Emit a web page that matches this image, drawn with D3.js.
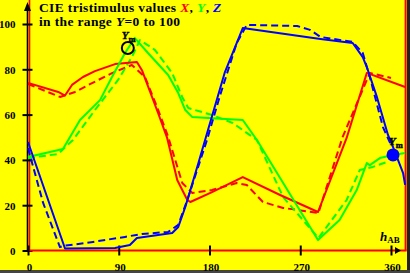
<!DOCTYPE html>
<html>
<head>
<meta charset="utf-8">
<script src="https://cdn.jsdelivr.net/npm/d3@7"></script>
<style>
  html, body { margin: 0; padding: 0; background: #ffff00; }
  svg { display: block; font-family: "Liberation Serif", "Times New Roman", serif; font-weight: bold; }
</style>
</head>
<body>
<div id="chart"></div>
<script>
//Data: [hue h_AB, value]
const X_SOLID = [[0,74.0],[30,70.0],[36.7,68.4],[43.6,73.1],[54.5,76.6],[66.4,79.2],[86.3,82.3],[108,83.2],[113,79.6],[129,60.7],[138,49.7],[148,31.1],[158,22.3],[161,21.4],[182.5,25.8],[213,32.4],[250,24.5],[287.6,17.0],[316,49.7],[336,78.4],[374,72.2]];
const X_DASH = [[0,73.5],[31.7,67.8],[46.6,70.0],[63.5,73.9],[83.3,78.3],[103,81.9],[116,76.6],[128,63.4],[139,50.2],[153,29.8],[163,25.4],[182.5,26.7],[207,29.8],[217,28.9],[233,21.4],[253,18.8],[288,16.6],[312,50.1],[339,78.4],[360,76.2]];
const Y_SOLID = [[0,41.3],[34.7,44.8],[51.6,57.6],[71.4,66.4],[83.3,76.6],[96.2,87.2],[106,93.8],[119,87.2],[139,77.5],[149,69.5],[156,62.0],[163,58.9],[178.5,58.5],[213,57.6],[227,48.8],[287.6,4.6],[309,13.5],[326,26.7],[336,38.6],[339,37.7],[349,40.8],[362,42.2],[374,43.0]];
const Y_DASH = [[0,40.8],[29.8,42.6],[44.6,48.8],[66.4,62.0],[89.3,75.3],[103,85.4],[111,92.9],[126,88.5],[143,78.3],[153,67.7],[159,62.9],[182.5,59.8],[203,56.3],[227,48.8],[253,23.6],[288,5.5],[316,22.3],[329,35.5],[342,36.9],[356,39.1]];
const Z_SOLID = [[0,47.9],[36.7,0.9],[86.3,1.1],[101,2.4],[108,5.5],[143,7.7],[149,10.4],[156,19.2],[169,38.6],[178.5,53.2],[195,78.4],[213,98.2],[290,93.4],[322,91.6],[332,85.4],[336,81.0],[346,67.8],[357,51.0],[362,45.7],[372,34.2],[374,29.0]];
const Z_DASH = [[0,45.2],[15,21.0],[31.7,1.5],[34.7,2.0],[64.5,3.8],[96.2,6.0],[113,7.3],[139,8.2],[149,11.3],[158,22.3],[177.5,48.8],[190,67.8],[207,91.6],[217,99.6],[267,99.1],[279.7,97.4],[290,94.3],[322,92.1],[332,87.2],[339,76.6],[352,54.5],[360,46.6]];
const X_TICKS = [0, 90, 180, 270, 360];
const Y_TICKS = [0, 20, 40, 60, 80, 100];
const Y_M = [99, 89.4];       // open circle on Y curve
const Y_M2 = [362, 42.2];     // filled circle

const W = 410, H = 273;
const x = d3.scaleLinear().domain([0, 360]).range([28, 391]);
const y = d3.scaleLinear().domain([0, 100]).range([250.5, 24]);
const hMax = 374;

const svg = d3.select('#chart').append('svg').attr('width', W).attr('height', H);
svg.append('rect').attr('width', W).attr('height', H).attr('fill', '#ffff00');
// image frame (right / bottom shadow)
svg.append('rect').attr('x', W - 3).attr('y', 0).attr('width', 3).attr('height', H).attr('fill', '#222');
svg.append('rect').attr('x', 0).attr('y', H - 3).attr('width', W).attr('height', 3).attr('fill', '#444');

// red frame lines
svg.append('line').attr('x1', x(0) + 1.5).attr('x2', x(0) + 1.5).attr('y1', 0).attr('y2', y(0))
  .attr('stroke', '#ff0000').attr('stroke-width', 1.6);
svg.append('line').attr('x1', x(hMax) + 0.5).attr('x2', x(hMax) + 0.5).attr('y1', 0).attr('y2', y(0))
  .attr('stroke', '#ff0000').attr('stroke-width', 2);

// y axis
svg.append('line').attr('x1', x(0) - 0.5).attr('x2', x(0) - 0.5).attr('y1', y(0)).attr('y2', 6)
  .attr('stroke', '#000').attr('stroke-width', 1.6);
svg.append('path').attr('d', `M${x(0) - 4},${11} L${x(0) - 0.5},${2} L${x(0) + 3},${11} Z`).attr('fill', '#000');

const yAxis = svg.append('g').attr('transform', `translate(${x(0) - 0.5},0)`)
  .call(d3.axisLeft(y).tickValues(Y_TICKS).tickSize(5).tickPadding(7).tickFormat(d3.format('d')));
yAxis.select('.domain').remove();
yAxis.selectAll('.tick line').attr('x1', -5).attr('x2', 5).attr('stroke', '#000').attr('stroke-width', 2);
yAxis.selectAll('.tick text').attr('font-family', '"Liberation Serif", serif').attr('font-weight', 'bold')
  .attr('font-size', 11).attr('fill', '#000').attr('dy', '0.35em');

// x axis (red baseline)
svg.append('line').attr('x1', x(0)).attr('x2', x(hMax) + 1.5).attr('y1', y(0)).attr('y2', y(0))
  .attr('stroke', '#ff0000').attr('stroke-width', 2.2);
svg.append('path').attr('d', `M${x(360) + 4},${y(0) - 3.5} L${x(360) + 10},${y(0)} L${x(360) + 4},${y(0) + 3.5} Z`).attr('fill', '#000');

const xAxis = svg.append('g').attr('transform', `translate(0,${y(0)})`)
  .call(d3.axisBottom(x).tickValues(X_TICKS).tickSize(5).tickPadding(8).tickFormat(d3.format('d')));
xAxis.select('.domain').remove();
xAxis.selectAll('.tick line').attr('y1', -5).attr('y2', 5).attr('stroke', '#000').attr('stroke-width', 2);
xAxis.selectAll('.tick text').attr('font-family', '"Liberation Serif", serif').attr('font-weight', 'bold')
  .attr('font-size', 11).attr('fill', '#000').attr('dx', 1);

// curves
const line = d3.line().x(d => x(d[0])).y(d => y(d[1]));
const series = [
  { data: X_DASH, color: '#ff0000', dash: '7,4' },
  { data: Y_DASH, color: '#00ff00', dash: '7,4' },
  { data: Z_DASH, color: '#0000ff', dash: '7,4' },
  { data: X_SOLID, color: '#ff0000', dash: null },
  { data: Y_SOLID, color: '#00ff00', dash: null },
  { data: Z_SOLID, color: '#0000ff', dash: null }
];
svg.append('g').selectAll('path').data(series).join('path')
  .attr('d', d => line(d.data))
  .attr('fill', 'none')
  .attr('stroke', d => d.color)
  .attr('stroke-width', 2)
  .attr('stroke-linejoin', 'round')
  .attr('stroke-dasharray', d => d.dash);

// markers
svg.append('circle').attr('cx', x(Y_M[0])).attr('cy', y(Y_M[1])).attr('r', 6)
  .attr('fill', 'none').attr('stroke', '#000').attr('stroke-width', 2);
svg.append('circle').attr('cx', x(Y_M2[0])).attr('cy', y(Y_M2[1])).attr('r', 6.5)
  .attr('fill', '#0000ff');

const lbl = (px, py, main, sub) => {
  const t = svg.append('text').attr('x', px).attr('y', py).attr('font-size', 11).attr('fill', '#000')
    .attr('stroke', '#000').attr('stroke-width', 0.4);
  t.append('tspan').attr('font-style', 'italic').text(main);
  t.append('tspan').attr('font-size', 8.5).attr('dy', 3).text(sub);
};
lbl(x(Y_M[0]) - 6, y(Y_M[1]) - 9, 'Y', 'm');
lbl(x(Y_M2[0]) - 4, y(Y_M2[1]) - 10, 'Y', 'm');

// axis name
const hl = svg.append('text').attr('x', 380).attr('y', 241).attr('font-size', 13).attr('fill', '#000');
hl.append('tspan').attr('font-style', 'italic').text('h');
hl.append('tspan').attr('font-size', 9).attr('dy', 2).text('AB');

// title
const t1 = svg.append('text').attr('x', 39).attr('y', 12).attr('font-size', 13.5)
  .attr('letter-spacing', 0.35).attr('fill', '#000');
t1.append('tspan').text('CIE tristimulus values ');
t1.append('tspan').attr('font-style', 'italic').attr('fill', '#ff0000').text('X');
t1.append('tspan').text(', ');
t1.append('tspan').attr('font-style', 'italic').attr('fill', '#00ff00').text('Y');
t1.append('tspan').text(', ');
t1.append('tspan').attr('font-style', 'italic').attr('fill', '#0000ff').text('Z');

const t2 = svg.append('text').attr('x', 39).attr('y', 25.5).attr('font-size', 13.5)
  .attr('letter-spacing', 0.35).attr('fill', '#000');
t2.append('tspan').text('in the range ');
t2.append('tspan').attr('font-style', 'italic').text('Y');
t2.append('tspan').text('=0 to 100');
</script>
</body>
</html>
